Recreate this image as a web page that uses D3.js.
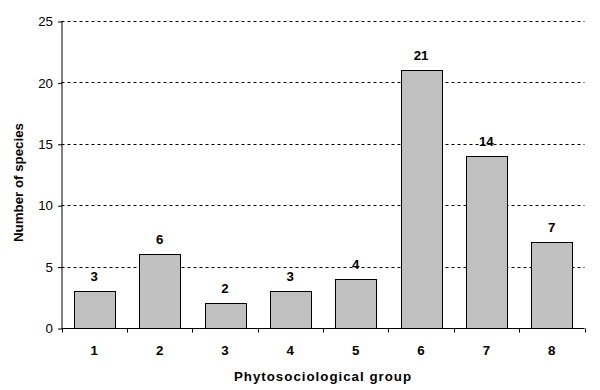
<!DOCTYPE html>
<html><head><meta charset="utf-8">
<script src="https://cdn.jsdelivr.net/npm/d3@7/dist/d3.min.js"></script>
<style>body{margin:0;background:#fff}svg{display:block}text{font-family:"Liberation Sans",Arial,sans-serif}</style>
</head><body><svg id="c" width="600" height="390"></svg>
<script>
const groups = ["1","2","3","4","5","6","7","8"];
const species = [3,6,2,3,4,21,14,7];
const yTicks = [0,5,10,15,20,25];
const xTitle = "Phytosociological group";
const yTitle = "Number of species";

const svg = d3.select("#c");
const m = {l:61.5, r:584.5, t:21, b:328};
const x = d3.scaleBand().domain(groups).range([m.l, m.r]).paddingInner(0.377).paddingOuter(0.19);
const y = d3.scaleLinear().domain([0,25]).range([m.b, m.t]);
const FS = "13.3px";

// gridlines
svg.append("g").selectAll("line").data(yTicks.filter(d=>d>0)).join("line")
  .attr("x1", m.l).attr("x2", m.r)
  .attr("y1", d=>Math.round(y(d))+0.5).attr("y2", d=>Math.round(y(d))+0.5)
  .attr("stroke","#000").attr("stroke-dasharray","3,3").attr("stroke-width",1);

// bars
svg.append("g").selectAll("rect").data(groups).join("rect")
  .attr("x", (d)=>Math.round(x(d))+0.5)
  .attr("y", (d,i)=>Math.round(y(species[i]))+0.5)
  .attr("width", Math.round(x.bandwidth()))
  .attr("height", (d,i)=>Math.round(y(0))-Math.round(y(species[i])))
  .attr("fill","#c0c0c0").attr("stroke","#000").attr("stroke-width",1);

// value labels
svg.append("g").selectAll("text").data(groups).join("text")
  .attr("x", d=>x(d)+x.bandwidth()/2)
  .attr("y", (d,i)=>y(species[i])-10)
  .attr("text-anchor","middle").attr("font-size",FS).attr("font-weight","bold")
  .text((d,i)=>species[i]);

// y axis
const ya = d3.axisLeft(y).tickValues(yTicks).tickSize(4).tickPadding(5);
const gy = svg.append("g").attr("transform",`translate(${m.l+0.5},0.5)`).call(ya);
gy.select(".domain").attr("d",`M0,${m.t}V${m.b}`).attr("stroke","#000");
gy.selectAll("text").attr("font-size",FS).attr("font-family","Liberation Sans, Arial, sans-serif").attr("fill","#000");

// x axis
const xa = d3.axisBottom(x).tickSize(0).tickPadding(0);
const gx = svg.append("g").attr("transform",`translate(0,${m.b+0.5})`).call(xa);
gx.select(".domain").attr("d",`M${m.l},0H${m.r}`).attr("stroke","#000");
gx.selectAll(".tick line").remove();
gx.selectAll(".tick text").attr("y",26).attr("dy",null).attr("font-size",FS).attr("font-weight","bold")
  .attr("font-family","Liberation Sans, Arial, sans-serif").attr("fill","#000");
// category boundary ticks
const bounds = groups.map(d=>x(d)-x.step()*x.paddingInner()/2).concat([m.r]);
bounds[0] = m.l;
gx.append("g").selectAll("line").data(bounds).join("line")
  .attr("x1",d=>Math.round(d)+0.5).attr("x2",d=>Math.round(d)+0.5).attr("y1",0).attr("y2",4).attr("stroke","#000");

// titles
svg.append("text").attr("x",(m.l+m.r)/2).attr("y",381).attr("text-anchor","middle")
  .attr("font-size",FS).attr("font-weight","bold").attr("letter-spacing","1px").text(xTitle);
svg.append("text").attr("transform",`translate(23,${(m.t+m.b)/2+8}) rotate(-90)`).attr("text-anchor","middle")
  .attr("font-size",FS).attr("font-weight","bold").text(yTitle);
</script></body></html>
